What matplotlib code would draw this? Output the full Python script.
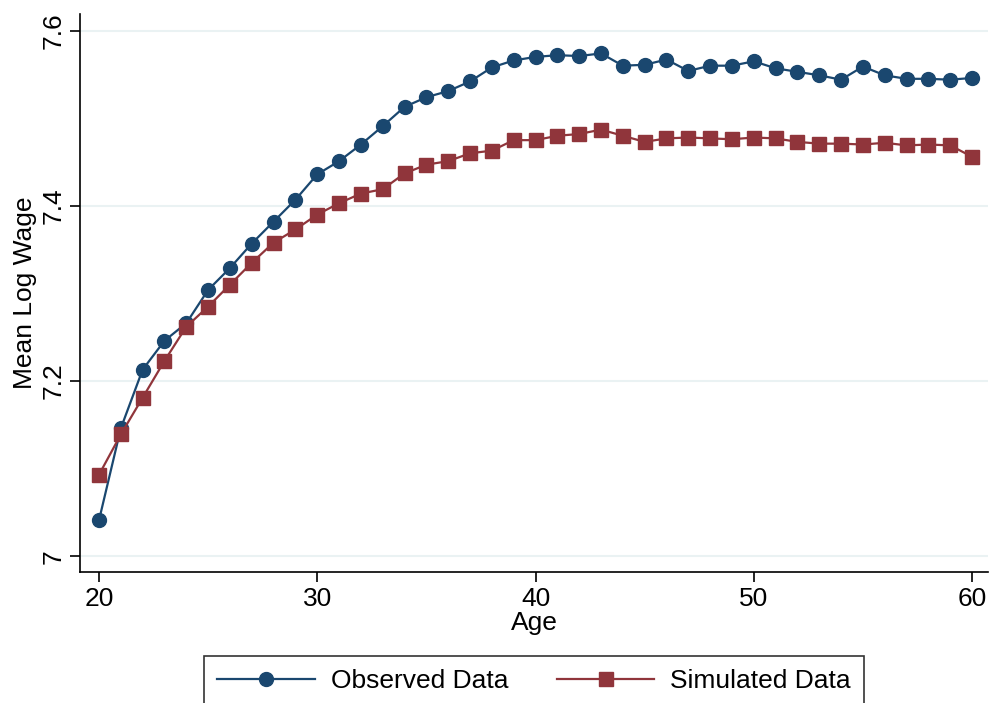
import matplotlib
matplotlib.use("Agg")
import matplotlib.pyplot as plt

ages = list(range(20, 61))
observed = [7.041, 7.146, 7.213, 7.246, 7.266, 7.304, 7.329, 7.357, 7.382, 7.407,
            7.436, 7.451, 7.470, 7.491, 7.513, 7.524, 7.531, 7.542, 7.558, 7.566,
            7.570, 7.572, 7.571, 7.574, 7.560, 7.561, 7.567, 7.554, 7.560, 7.560,
            7.565, 7.557, 7.553, 7.549, 7.544, 7.559, 7.549, 7.545, 7.545, 7.544,
            7.546]
simulated = [7.093, 7.139, 7.181, 7.223, 7.262, 7.285, 7.310, 7.335, 7.358, 7.373,
             7.390, 7.403, 7.414, 7.419, 7.437, 7.447, 7.451, 7.460, 7.463, 7.475,
             7.475, 7.480, 7.482, 7.487, 7.480, 7.473, 7.477, 7.478, 7.477, 7.476,
             7.478, 7.477, 7.473, 7.471, 7.471, 7.470, 7.472, 7.469, 7.470, 7.469,
             7.456]
xticks = [20, 30, 40, 50, 60]
yticks = [7.0, 7.2, 7.4, 7.6]
ytick_labels = ["7", "7.2", "7.4", "7.6"]

plt.rcParams['font.family'] = ['Liberation Sans', 'DejaVu Sans']

fig = plt.figure(figsize=(9.91, 7.03), dpi=100)
ax = fig.add_axes([80/991, 1 - 572/703, (988-80)/991, (572-14)/703])

blue = '#1a476f'
red = '#90353b'

ax.plot(ages, observed, color=blue, lw=1.6, marker='o', ms=10, mec=blue, mfc=blue,
        label='Observed Data', zorder=3)
ax.plot(ages, simulated, color=red, lw=1.6, marker='s', ms=9.5, mec=red, mfc=red,
        label='Simulated Data', zorder=3)

ax.set_xlim(19.13, 60.73)
ax.set_ylim(6.982, 7.619)
ax.set_xticks(xticks)
ax.set_yticks(yticks)
ax.set_yticklabels(ytick_labels, rotation=90, va='center')
ax.tick_params(axis='both', labelsize=19, direction='out', length=7, width=1.2)
ax.tick_params(axis='y', pad=3)
for t in ax.get_yticklabels():
    t.set_va('center')
ax.grid(axis='y', color='#eaf2f3', lw=1.5, zorder=0)
ax.set_axisbelow(True)
for s in ['top', 'right']:
    ax.spines[s].set_visible(False)
for s in ['left', 'bottom']:
    ax.spines[s].set_linewidth(1.2)

ax.set_xlabel('Age', fontsize=19, labelpad=0)
ax.set_ylabel('Mean Log Wage', fontsize=19, labelpad=4)

leg = fig.legend(loc='upper center', bbox_to_anchor=(534/991, 1 - 656/703), ncol=2,
                 fontsize=19, frameon=True, fancybox=False, edgecolor='black',
                 handlelength=3.7, handletextpad=0.6, columnspacing=1.85,
                 borderpad=0.5, borderaxespad=0)
leg.get_frame().set_linewidth(1.2)

fig.savefig('out.png', dpi=100)
